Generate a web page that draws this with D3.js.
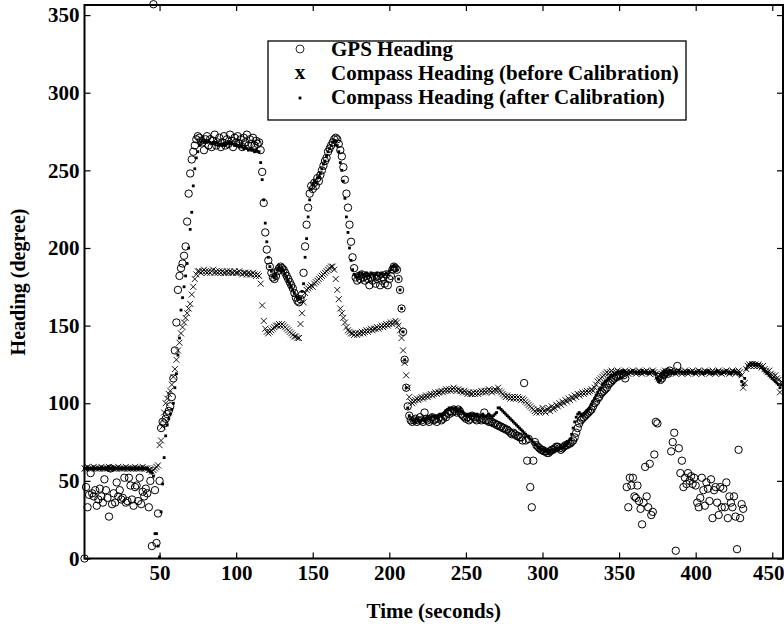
<!DOCTYPE html>
<html>
<head>
<meta charset="utf-8">
<script src="https://cdn.jsdelivr.net/npm/d3@7"></script>
<style>
body { margin: 0; background: #fff; }
text { font-family: "Liberation Serif", "Times New Roman", serif; font-weight: bold; }
</style>
</head>
<body>
<script>
const width = 784, height = 626;

// samples are 1 per second, first one at t = 1 s
const startTime = 1;

const gpsHeading = [
0,46,33,41,55,42,40,44,34,38,
45,40,36,51,44,39,27,58,35,42,
36,49,40,44,38,39,52,36,37,52,
47,38,34,46,47,37,52,35,43,40,
45,42,33,50,8,357,44,10,29,50,
84,88,87,90,93,95,98,104,116,134,
152,173,182,187,190,195,201,217,235,248,
257,262,266,270,272,271,269,268,263,270,
272,266,270,265,269,273,266,268,271,265,
268,272,266,270,267,273,269,265,271,268,
272,267,270,265,271,268,273,266,270,267,
271,266,269,267,268,263,249,229,210,199,
192,188,184,181,180,182,185,187,188,187,
186,184,182,180,178,176,174,171,168,166,
165,167,170,184,201,215,226,235,240,238,
242,240,245,243,247,250,253,256,258,262,
264,266,268,270,271,270,267,263,259,252,
244,235,226,215,204,194,187,181,179,182,
180,183,181,179,182,180,176,181,179,182,
177,180,182,176,179,181,177,183,176,180,
182,186,188,187,186,180,173,161,146,128,
110,98,92,89,88,89,90,88,89,91,
89,88,94,90,89,88,90,91,89,90,
88,90,91,89,90,92,91,94,93,95,
94,96,95,94,96,95,93,92,91,90,
91,89,90,92,91,90,89,91,90,89,
90,94,89,89,88,88,88,87,87,86,
86,85,85,84,84,83,83,82,81,80,
81,80,79,79,78,78,76,113,76,63,
77,46,33,63,75,73,72,71,70,70,
69,69,68,68,69,70,70,71,72,72,
71,70,71,72,73,73,74,74,75,76,
78,81,84,87,89,90,91,92,93,94,
95,96,98,100,101,103,104,106,107,108,
109,110,112,113,114,115,116,117,117,118,
118,119,118,116,46,33,52,47,52,40,
39,47,37,32,22,36,59,40,33,61,
28,30,67,88,87,117,115,116,118,119,
120,119,121,69,75,81,5,124,71,55,
63,46,52,48,55,50,53,48,52,47,
36,33,39,52,44,34,49,45,37,51,
26,44,46,36,28,46,33,45,33,49,
26,40,36,33,40,27,6,70,26,35,
32
];

const compassBefore = [
58,58,59,58,58,58,59,58,58,58,
58,59,58,58,58,58,59,58,58,58,
58,58,59,58,58,58,58,59,58,58,
58,58,58,59,58,58,58,58,59,58,
58,58,57,57,56,57,58,59,60,73,
76,85,94,100,103,106,108,112,117,122,
128,134,139,145,149,152,155,158,161,164,
170,175,180,183,185,185,184,185,186,185,
184,185,184,185,186,184,185,184,185,184,
185,184,184,185,184,185,184,184,185,184,
184,185,184,183,184,184,183,184,183,183,
184,183,182,183,182,177,163,153,148,146,
145,146,147,148,149,150,150,151,150,151,
150,149,148,147,146,145,144,143,143,142,
142,151,158,165,171,173,174,175,176,175,
177,178,179,180,181,182,183,184,185,186,
187,188,188,186,180,173,167,161,158,155,
152,149,147,146,145,145,144,145,144,145,
145,146,145,146,147,146,147,148,147,148,
148,149,148,149,150,149,150,151,150,151,
152,151,152,153,152,150,147,142,134,126,
118,110,104,101,100,101,102,103,102,103,
104,103,104,105,104,105,106,105,106,107,
106,107,107,108,107,108,109,108,109,108,
109,110,109,108,109,108,108,107,108,107,
106,107,106,106,107,106,107,106,107,108,
107,108,107,108,109,108,107,108,109,108,
110,108,107,106,105,104,105,104,103,104,
103,104,103,104,103,102,103,102,101,100,
99,98,97,96,95,94,96,94,95,97,
95,94,96,97,95,98,96,97,99,98,
100,99,101,100,102,101,103,102,104,103,
105,104,106,105,106,107,106,107,108,107,
108,109,108,110,112,114,115,116,117,118,
119,120,119,120,121,120,119,120,121,120,
120,119,120,121,120,119,120,120,121,120,
119,120,121,120,119,120,120,121,120,119,
120,121,120,119,117,116,118,119,120,121,
120,119,120,121,120,120,119,120,121,120,
119,120,121,120,119,120,120,121,120,119,
120,121,120,119,120,121,120,120,119,120,
121,120,119,120,121,120,119,120,120,121,
120,119,120,121,120,119,120,121,120,118,
110,113,122,124,125,124,125,124,125,124,
125,124,123,124,122,121,120,121,119,118,
117,118,116,115,107,114,113
];

const compassAfter = [
58,58,58,58,58,58,58,58,58,58,
58,58,58,58,58,58,58,58,58,58,
58,58,58,58,58,58,58,58,58,58,
58,58,58,58,58,58,58,58,58,58,
58,58,57,56,55,53,16,16,8,1,
30,48,65,79,86,90,93,96,100,110,
119,131,142,160,168,175,182,190,200,212,
223,240,251,258,262,266,268,269,268,269,
268,269,268,267,268,267,268,267,266,267,
266,267,266,267,268,267,268,267,266,267,
266,265,266,265,264,265,264,263,264,263,
263,262,263,262,262,255,244,231,216,204,
194,188,185,182,181,183,186,188,187,186,
185,183,181,179,177,175,173,171,169,168,
167,168,172,177,194,206,220,231,238,241,
243,242,245,246,248,251,254,256,259,262,
264,266,268,269,269,266,262,255,250,243,
232,220,210,200,192,186,183,182,181,183,
182,184,183,182,184,183,182,184,183,182,
183,184,182,183,184,182,183,184,183,185,
186,188,189,188,186,180,173,161,146,128,
110,97,92,90,89,88,89,90,89,88,
89,90,89,90,91,90,91,92,91,92,
91,92,93,92,93,94,95,96,97,96,
97,96,97,96,95,96,95,94,93,92,
93,92,93,92,93,92,93,92,91,92,
93,92,91,92,93,92,91,92,93,94,
97,97,96,95,94,93,92,91,90,89,
88,87,86,85,84,83,82,81,80,79,
78,77,76,75,74,73,72,71,70,70,
69,70,69,68,69,70,69,70,71,70,
71,72,71,72,73,74,75,77,80,84,
88,91,93,94,93,92,93,94,95,96,
97,99,101,103,105,107,109,110,112,113,
114,115,116,117,118,118,119,119,120,120,
120,120,121,120,120,119,120,120,121,120,
120,120,119,120,121,120,120,120,119,120,
120,121,120,119,116,114,115,117,119,120,
120,120,121,120,120,119,120,120,121,120,
120,120,119,120,121,120,120,120,119,120,
120,121,120,120,119,120,120,121,120,120,
119,120,120,121,120,120,119,120,120,121,
120,120,119,120,121,120,120,119,118,114,
112,116,122,124,125,126,125,126,125,124,
125,124,123,122,121,120,119,118,117,116,
115,114,113,112,110,112,111
];

const xTicks = [50, 100, 150, 200, 250, 300, 350, 400, 450];
const yTicks = [0, 50, 100, 150, 200, 250, 300, 350];
const legendLabels = ["GPS Heading", "Compass Heading (before Calibration)", "Compass Heading (after Calibration)"];

const plot = {left: 84.5, right: 783, top: 5, bottom: 558.5};

const x = d3.scaleLinear().domain([1, 457]).range([plot.left, plot.right]);
const y = d3.scaleLinear().domain([0, 356.5]).range([plot.bottom, plot.top]);

const svg = d3.select("body").append("svg")
.attr("width", width)
.attr("height", height);

// axes, ticks pointing into the box
svg.append("g")
.attr("transform", `translate(0,${plot.bottom})`)
.call(d3.axisBottom(x).tickValues(xTicks).tickSizeInner(-6).tickSizeOuter(0).tickPadding(7))
.call(g => g.select(".domain").remove())
.call(g => g.selectAll("text").attr("font-size", 21).attr("font-family", null).attr("fill", "#000"))
// last label sits on the window edge, pull it in a bit
.call(g => g.selectAll("text").filter(d => d === 450).attr("dx", -4));

svg.append("g")
.attr("transform", `translate(${plot.left},0)`)
.call(d3.axisLeft(y).tickValues(yTicks).tickSizeInner(-6).tickSizeOuter(0).tickPadding(5))
.call(g => g.select(".domain").remove())
.call(g => g.selectAll("text").attr("font-size", 21).attr("font-family", null).attr("fill", "#000"));

svg.append("g")
.attr("transform", `translate(0,${plot.top})`)
.call(d3.axisTop(x).tickValues(xTicks).tickSizeInner(-6).tickSizeOuter(0).tickFormat(""))
.call(g => g.select(".domain").remove());

svg.append("g")
.attr("transform", `translate(${plot.right},0)`)
.call(d3.axisRight(y).tickValues(yTicks).tickSizeInner(-6).tickSizeOuter(0).tickFormat(""))
.call(g => g.select(".domain").remove());

svg.selectAll(".tick line").attr("stroke", "#000").attr("stroke-width", 1.2);

svg.append("rect")
.attr("x", plot.left)
.attr("y", plot.top)
.attr("width", plot.right - plot.left)
.attr("height", plot.bottom - plot.top)
.attr("fill", "none")
.attr("stroke", "#000")
.attr("stroke-width", 2);

// markers: o, then x, then dots on top
const gps = svg.append("g")
.selectAll("circle")
.data(gpsHeading)
.join("circle")
.attr("cx", (d, i) => x(startTime + i))
.attr("cy", d => y(d))
.attr("r", 3.7)
.attr("fill", "none")
.attr("stroke", "#000")
.attr("stroke-width", 1);

const before = svg.append("g")
.selectAll("path")
.data(compassBefore)
.join("path")
.attr("d", "M-3,-3L3,3M-3,3L3,-3")
.attr("transform", (d, i) => `translate(${x(startTime + i)},${y(d)})`)
.attr("stroke", "#000")
.attr("stroke-width", 0.9);

const after = svg.append("g")
.selectAll("rect")
.data(compassAfter)
.join("rect")
.attr("x", (d, i) => x(startTime + i) - 1.4)
.attr("y", d => y(d) - 1.4)
.attr("width", 2.8)
.attr("height", 2.8)
.attr("fill", "#000");

// legend
const legend = svg.append("g");
legend.append("rect")
.attr("x", 268)
.attr("y", 41)
.attr("width", 418)
.attr("height", 79)
.attr("fill", "#fff")
.attr("stroke", "#000")
.attr("stroke-width", 1.3);

legend.selectAll(".label")
.data(legendLabels)
.join("text")
.attr("class", "label")
.attr("x", 331)
.attr("y", (d, i) => 56 + i * 24)
.attr("font-size", 21)
.text(d => d);

legend.append("circle")
.attr("cx", 300).attr("cy", 49).attr("r", 4)
.attr("fill", "none").attr("stroke", "#111").attr("stroke-width", 0.9);
legend.append("text")
.attr("x", 300).attr("y", 79)
.attr("text-anchor", "middle")
.attr("font-size", 21)
.text("x");
legend.append("rect")
.attr("x", 298.6).attr("y", 96.6).attr("width", 2.8).attr("height", 2.8)
.attr("fill", "#000");

// axis titles
svg.append("text")
.attr("x", (plot.left + plot.right) / 2)
.attr("y", 618)
.attr("text-anchor", "middle")
.attr("font-size", 21)
.text("Time (seconds)");

svg.append("text")
.attr("transform", "translate(25,282) rotate(-90)")
.attr("text-anchor", "middle")
.attr("font-size", 20)
.text("Heading (degree)");
</script>
</body>
</html>
